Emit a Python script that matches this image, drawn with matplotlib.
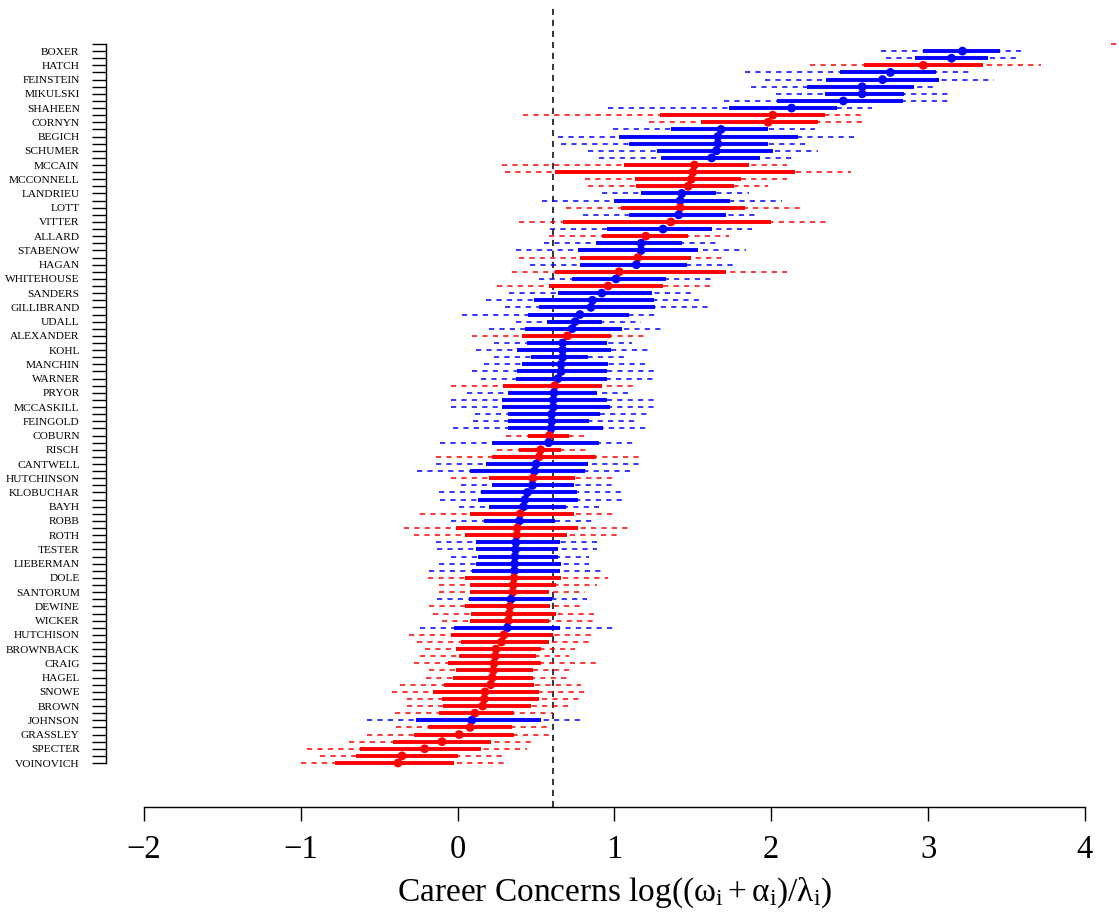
import matplotlib
matplotlib.use("Agg")
import matplotlib.pyplot as plt
import matplotlib.transforms as mtransforms
import numpy as np

plt.rcParams['font.family'] = ['Liberation Serif', 'DejaVu Serif']
plt.rcParams['mathtext.fontset'] = 'custom'
plt.rcParams['mathtext.rm'] = 'Liberation Serif'
plt.rcParams['mathtext.it'] = 'Liberation Serif:italic'

# Names shown on the axis (every other row is labelled; row 0 is unlabelled)
labeled_names = ["BOXER", "HATCH", "FEINSTEIN", "MIKULSKI", "SHAHEEN", "CORNYN", "BEGICH",
                 "SCHUMER", "MCCAIN", "MCCONNELL", "LANDRIEU", "LOTT", "VITTER", "ALLARD",
                 "STABENOW", "HAGAN", "WHITEHOUSE", "SANDERS", "GILLIBRAND", "UDALL",
                 "ALEXANDER", "KOHL", "MANCHIN", "WARNER", "PRYOR", "MCCASKILL", "FEINGOLD",
                 "COBURN", "RISCH", "CANTWELL", "HUTCHINSON", "KLOBUCHAR", "BAYH", "ROBB",
                 "ROTH", "TESTER", "LIEBERMAN", "DOLE", "SANTORUM", "DEWINE", "WICKER",
                 "HUTCHISON", "BROWNBACK", "CRAIG", "HAGEL", "SNOWE", "BROWN", "JOHNSON",
                 "GRASSLEY", "SPECTER", "VOINOVICH"]

party = (list("RDDRDDDDDD") + list("RRDDDDDRRR") + list("RDDRDRDRDD") +
         list("RDRDRDDDDD") + list("DRDDDDDDRD") + list("DDDDDRDRRD") +
         list("DRDDDDRDRR") + list("DDDDDRRRDR") + list("RRDRRRRRRR") +
         list("RRRRRDRRRR") + list("RR"))

outer_lo = [4.17, 2.70, 2.73, 2.25, 1.83, 1.96, 1.87, 2.03, 1.70, 0.96,
            0.42, 1.22, 0.99, 0.64, 0.66, 0.83, 0.90, 0.28, 0.30, 0.81,
            0.83, 0.92, 0.54, 0.69, 0.80, 0.39, 0.59, 0.58, 0.55, 0.37,
            0.39, 0.46, 0.35, 0.52, 0.25, 0.33, 0.18, 0.30, 0.03, 0.37,
            0.20, 0.09, 0.23, 0.12, 0.23, 0.17, 0.09, 0.15, -0.04, 0.06,
            -0.04, -0.04, 0.11, 0.10, -0.03, 0.31, -0.11, 0.25, -0.14, -0.14,
            -0.26, -0.04, 0.02, -0.12, -0.11, 0.01, -0.24, -0.04, -0.34, -0.28,
            -0.14, -0.13, -0.04, -0.12, -0.18, -0.19, -0.12, -0.12, -0.13, -0.18,
            -0.16, -0.10, -0.24, -0.31, -0.26, -0.21, -0.24, -0.28, -0.18, -0.20,
            -0.37, -0.42, -0.32, -0.32, -0.40, -0.58, -0.39, -0.58, -0.69, -0.96,
            -0.88, -1.00]
inner_lo = [4.50, 2.97, 2.92, 2.59, 2.44, 2.35, 2.23, 2.34, 2.04, 1.73,
            1.29, 1.55, 1.36, 1.03, 1.09, 1.27, 1.30, 1.06, 0.62, 1.13,
            1.14, 1.17, 1.00, 1.04, 1.09, 0.67, 0.95, 0.92, 0.88, 0.77,
            0.78, 0.78, 0.62, 0.73, 0.58, 0.64, 0.49, 0.52, 0.45, 0.57,
            0.43, 0.41, 0.44, 0.38, 0.47, 0.41, 0.38, 0.37, 0.29, 0.32,
            0.28, 0.28, 0.32, 0.32, 0.32, 0.45, 0.22, 0.39, 0.22, 0.18,
            0.08, 0.20, 0.22, 0.15, 0.13, 0.20, 0.08, 0.17, -0.01, 0.05,
            0.12, 0.12, 0.13, 0.12, 0.09, 0.05, 0.08, 0.08, 0.075, 0.05,
            0.085, 0.08, -0.02, -0.04, 0.02, -0.01, 0.01, -0.06, -0.01, -0.03,
            -0.085, -0.155, -0.10, -0.095, -0.12, -0.265, -0.19, -0.28, -0.41, -0.62,
            -0.65, -0.78]
point = [5.00, 3.22, 3.15, 2.97, 2.76, 2.71, 2.58, 2.58, 2.46, 2.13,
         2.01, 1.98, 1.68, 1.66, 1.66, 1.65, 1.62, 1.51, 1.50, 1.49,
         1.47, 1.43, 1.42, 1.42, 1.41, 1.36, 1.31, 1.20, 1.17, 1.17,
         1.15, 1.14, 1.03, 1.01, 0.96, 0.92, 0.86, 0.85, 0.78, 0.75,
         0.73, 0.70, 0.67, 0.67, 0.67, 0.66, 0.66, 0.64, 0.62, 0.615,
         0.61, 0.61, 0.60, 0.60, 0.596, 0.585, 0.58, 0.53, 0.52, 0.50,
         0.49, 0.48, 0.477, 0.445, 0.43, 0.42, 0.40, 0.394, 0.38, 0.377,
         0.372, 0.37, 0.366, 0.364, 0.362, 0.36, 0.355, 0.351, 0.34, 0.334,
         0.33, 0.324, 0.317, 0.296, 0.28, 0.245, 0.24, 0.232, 0.228, 0.221,
         0.211, 0.175, 0.17, 0.16, 0.11, 0.09, 0.08, 0.01, -0.10, -0.21,
         -0.355, -0.38]
inner_hi = [5.50, 3.46, 3.38, 3.35, 3.05, 3.07, 2.91, 2.85, 2.84, 2.42,
            2.34, 2.30, 1.98, 2.17, 1.98, 2.01, 1.93, 1.86, 2.15, 1.81,
            1.76, 1.65, 1.74, 1.83, 1.71, 2.00, 1.62, 1.47, 1.43, 1.53,
            1.49, 1.46, 1.71, 1.33, 1.31, 1.24, 1.25, 1.26, 1.09, 0.92,
            1.05, 0.98, 0.95, 0.98, 0.83, 0.96, 0.95, 0.95, 0.92, 0.89,
            0.95, 0.97, 0.91, 0.84, 0.93, 0.71, 0.90, 0.66, 0.88, 0.83,
            0.81, 0.75, 0.74, 0.76, 0.77, 0.69, 0.74, 0.62, 0.77, 0.70,
            0.65, 0.64, 0.64, 0.66, 0.65, 0.66, 0.63, 0.585, 0.60, 0.59,
            0.63, 0.585, 0.65, 0.61, 0.585, 0.53, 0.50, 0.53, 0.48, 0.48,
            0.49, 0.52, 0.52, 0.47, 0.36, 0.53, 0.345, 0.36, 0.21, 0.15,
            0.005, -0.02]
outer_hi = [6.00, 3.59, 3.56, 3.72, 3.29, 3.42, 3.05, 3.14, 3.15, 2.64,
            2.59, 2.61, 2.28, 2.53, 2.24, 2.30, 2.15, 2.10, 2.51, 2.10,
            1.98, 1.86, 2.07, 2.21, 1.91, 2.36, 1.88, 1.73, 1.65, 1.84,
            1.71, 1.78, 2.10, 1.62, 1.64, 1.50, 1.56, 1.62, 1.28, 1.17,
            1.30, 1.20, 1.11, 1.23, 1.08, 1.21, 1.27, 1.27, 1.14, 1.10,
            1.27, 1.26, 1.21, 1.13, 1.22, 0.84, 1.14, 0.83, 1.17, 1.17,
            1.13, 0.99, 0.99, 1.05, 1.07, 0.90, 1.01, 0.86, 1.11, 1.04,
            0.89, 0.89, 0.84, 0.84, 0.93, 0.96, 0.89, 0.81, 0.825, 0.78,
            0.88, 0.87, 0.99, 0.87, 0.84, 0.75, 0.71, 0.88, 0.71, 0.71,
            0.79, 0.83, 0.79, 0.72, 0.61, 0.81, 0.58, 0.60, 0.49, 0.44,
            0.30, 0.30]
reference_value = 0.61
x_ticks = [-2, -1, 0, 1, 2, 3, 4]

party_colors = {"R": "#FF0000", "D": "#0000FF"}
colors = [party_colors[p] for p in party]
rows = np.arange(len(point))

W, H = 1119, 913
fig = plt.figure(figsize=(W / 100, H / 100), dpi=100)
xlim = (-2.12, 4.22)
px_per_unit = 156.8
left_px = 457.6 + xlim[0] * px_per_unit
right_px = 457.6 + xlim[1] * px_per_unit
top_px, bottom_px = 5.0, 806.7
ax = fig.add_axes([left_px / W, 1 - bottom_px / H, (right_px - left_px) / W, (bottom_px - top_px) / H])

row_px = 7.119
ylim_top = (top_px - 44) / row_px
ylim_bot = (bottom_px - 44) / row_px
ax.set_xlim(*xlim)
ax.set_ylim(ylim_bot, ylim_top)

ax.hlines(rows, outer_lo, outer_hi, colors=colors, linewidth=1.1,
          linestyles=[(0, (3.4, 3.4))], zorder=2)
ax.hlines(rows, inner_lo, inner_hi, colors=colors, linewidth=2.8, zorder=3)
ax.scatter(point, rows, s=40, c=colors, zorder=4, linewidths=0)

ax.axvline(reference_value, color="black", linewidth=1.1,
           linestyle=(0, (4.0, 3.2)), zorder=1)

for s in ["top", "right"]:
    ax.spines[s].set_visible(False)
ax.spines["bottom"].set_bounds(x_ticks[0], x_ticks[-1])
ax.spines["bottom"].set_linewidth(1.0)
ax.spines["left"].set_position(("outward", 13.8))
ax.spines["left"].set_bounds(rows[0], rows[-1])
ax.spines["left"].set_linewidth(1.0)

ax.set_xticks(x_ticks)
ax.set_xticklabels([("\u2212" + str(abs(v))) if v < 0 else str(v) for v in x_ticks])
ax.tick_params(axis="x", length=10, width=1.0, pad=10, labelsize=23.5, direction="out")

ylabels = []
k = 0
for r in rows:
    if r % 2 == 1:
        ylabels.append(labeled_names[k])
        k += 1
    else:
        ylabels.append("")
ax.set_yticks(rows)
ax.set_yticklabels(ylabels)
ax.tick_params(axis="y", length=10, width=1.0, pad=9, labelsize=8.2, direction="out")

trans = mtransforms.blended_transform_factory(ax.transData, ax.transAxes)
ax.text(1.0, -0.1173, r"Career Concerns $\mathregular{log((ω_i + α_i)/λ_i)}$",
        transform=trans, ha="center", va="baseline", fontsize=24)

fig.savefig("out.png", dpi=100)
